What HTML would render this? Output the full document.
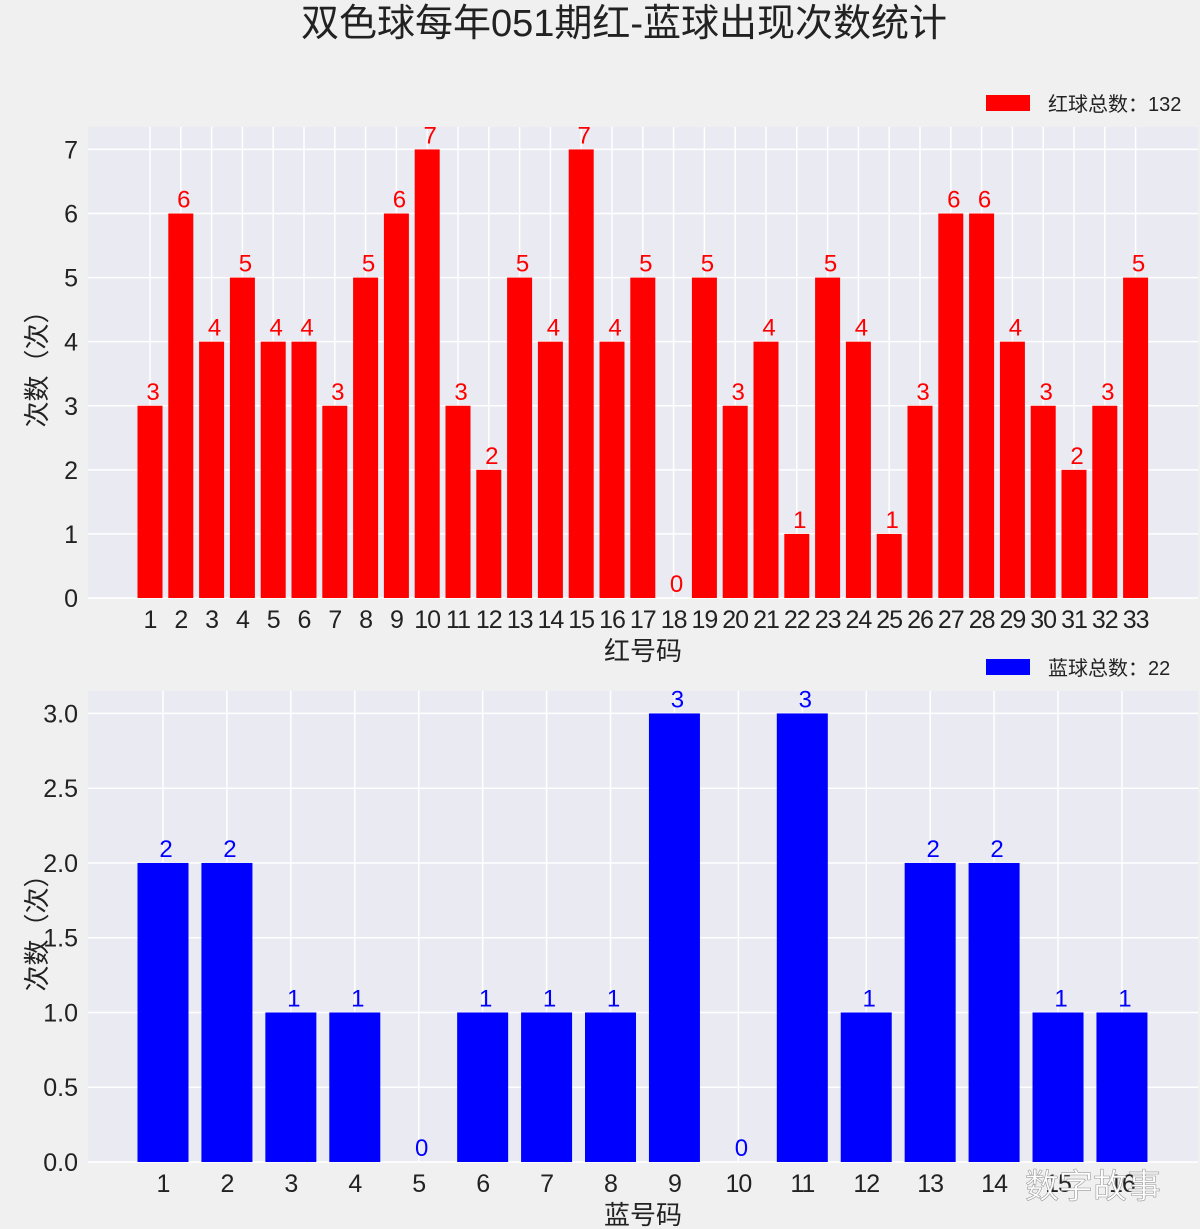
<!DOCTYPE html>
<html><head><meta charset="utf-8"><style>
body{margin:0;background:#f0f0f0;}
svg{display:block;font-family:"Liberation Sans","Noto Sans CJK SC",sans-serif;}
</style></head><body>
<svg id="c" width="1200" height="1229">
<rect width="1200" height="1229" fill="#f0f0f0"/>
<text x="624" y="36" font-size="38" text-anchor="middle" fill="#222">双色球每年051期红-蓝球出现次数统计</text>
</svg>
<script>
const redCats=[1,2,3,4,5,6,7,8,9,10,11,12,13,14,15,16,17,18,19,20,21,22,23,24,25,26,27,28,29,30,31,32,33];
const redVals=[3,6,4,5,4,4,3,5,6,7,3,2,5,4,7,4,5,0,5,3,4,1,5,4,1,3,6,6,4,3,2,3,5];
const redTicks=[0,1,2,3,4,5,6,7];
const blueCats=[1,2,3,4,5,6,7,8,9,10,11,12,13,14,15,16];
const blueVals=[2,2,1,1,0,1,1,1,3,0,3,1,2,2,1,1];
const blueTicks=[0,0.5,1,1.5,2,2.5,3];
const blueTickLabels=["0.0","0.5","1.0","1.5","2.0","2.5","3.0"];
const NS="http://www.w3.org/2000/svg";
const svg=document.getElementById('c');
function mk(t,a,txt){const e=document.createElementNS(NS,t);for(const k in a)e.setAttribute(k,a[k]);if(txt!==undefined)e.textContent=txt;svg.appendChild(e);return e;}
function panel(o){
  const {cats,vals,ticks,tickLabels,L,R,T,B,ymax,x0,dx,bw,color,xlabel,legend,legY,pre}=o;
  const ys=v=>B-(v/ymax)*(B-T);
  const xs=i=>x0+i*dx;
  let p=mk('rect',{x:L,y:T,width:R-L,height:B-T,fill:'#eaeaf2'});
  
  ticks.forEach((t,i)=>{
    let g=mk('line',{x1:L,x2:R,y1:ys(t),y2:ys(t),stroke:'#fff','stroke-width':1.5});
    
    let tx=mk('text',{x:L-10,y:ys(t)+9,'font-size':25,'text-anchor':'end',fill:'#222'},tickLabels?tickLabels[i]:String(t));
    
  });
  cats.forEach((c,i)=>{
    let g=mk('line',{x1:xs(i),x2:xs(i),y1:T,y2:B,stroke:'#fff','stroke-width':1.5});
    
  });
  cats.forEach((c,i)=>{
    const v=vals[i];
    let b=mk('rect',{x:xs(i)-bw/2,y:ys(v),width:bw,height:B-ys(v),fill:color});
    
    let l=mk('text',{x:xs(i)+3,y:ys(v)-6,'font-size':24,'text-anchor':'middle',fill:color},String(v));
    
    let t=mk('text',{x:xs(i),y:B+30,'font-size':25,'text-anchor':'middle',fill:'#222','letter-spacing':'-1'},String(c));
    
  });
  let xl=mk('text',{x:643,y:B+62,'font-size':26,'text-anchor':'middle',fill:'#222'},xlabel);
  
  let yl=mk('text',{x:0,y:0,'font-size':26,'text-anchor':'middle',fill:'#222',transform:`translate(${L-42},${(T+B)/2}) rotate(-90)`},'次数（次）');
  
  let lr=mk('rect',{x:986,y:legY-8,width:44,height:16,fill:color});
  
  let lt=mk('text',{x:1048,y:legY+8,'font-size':20,fill:'#222'},legend);
  
}
panel({pre:'red',cats:redCats,vals:redVals,ticks:redTicks,L:88,R:1198,T:127,B:598,ymax:7.35,x0:150,dx:30.8,bw:25,color:'#ff0000',xlabel:'红号码',legend:'红球总数：'+redVals.reduce((a,b)=>a+b,0),legY:103});
panel({pre:'blue',cats:blueCats,vals:blueVals,ticks:blueTicks,tickLabels:blueTickLabels,L:88,R:1198,T:691,B:1162,ymax:3.15,x0:163,dx:63.93,bw:51,color:'#0000ff',xlabel:'蓝号码',legend:'蓝球总数：'+blueVals.reduce((a,b)=>a+b,0),legY:667});
let wm=mk('text',{x:1025,y:1198,'font-size':34,fill:'#fff',stroke:'#999','stroke-width':0.6},'数字故事');

</script>
</body></html>
